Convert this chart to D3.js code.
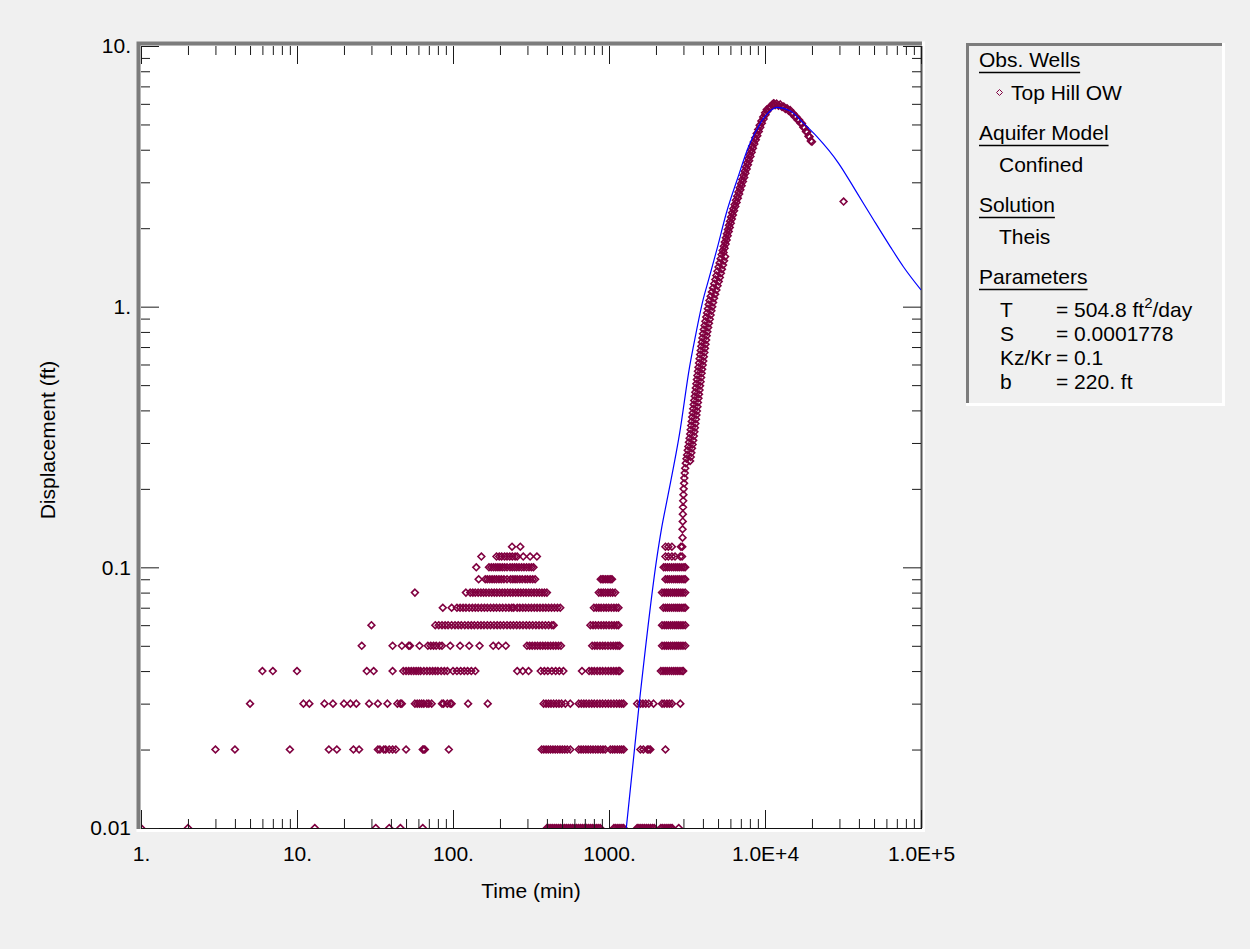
<!DOCTYPE html>
<html>
<head>
<meta charset="utf-8">
<title>Top Hill OW - Theis</title>
<script src="https://d3js.org/d3.v7.min.js"></script>
<style>
body { margin: 0; background: #f0f0f0; }
svg text { font-family: "Liberation Sans", Arial, sans-serif; }
</style>
</head>
<body>
<div id="chart"></div>
<script>

// axis ticks
var xTicks = [1, 10, 100, 1000, 1e4, 1e5];
var xTickLabels = ["1.", "10.", "100.", "1000.", "1.0E+4", "1.0E+5"];
var yTicks = [0.01, 0.1, 1, 10];
var yTickLabels = ["0.01", "0.1", "1.", "10."];

// observed displacement, readings at 0.01 ft steps (time in min per level)
var levels = [0.01, 0.02, 0.03, 0.04, 0.05, 0.06, 0.07, 0.08, 0.09, 0.10, 0.11, 0.12];
var t001 = [1, 2, 13, 32, 39, 46, 64, 400, 412, 424, 436, 449, 462, 476, 490, 505, 520, 535, 551, 567, 584, 601, 619, 637, 656, 675, 695, 716, 737, 759, 781, 804, 828, 852, 878, 1075, 1105, 1140, 1175, 1210, 1240, 1515, 1555, 1600, 1645, 1690, 1740, 1790, 1845, 1900, 1950, 2150, 2210, 2280, 2350, 2420, 2490, 2540, 2800];
var t002 = [3, 4, 9, 16, 18, 23, 25, 33, 34, 36, 37, 39, 41, 43, 50, 64, 65, 66, 94, 370, 382, 395, 408, 422, 437, 452, 468, 485, 502, 520, 540, 565, 640, 662, 685, 710, 735, 762, 790, 820, 850, 882, 915, 946, 1020, 1055, 1090, 1130, 1170, 1205, 1242, 1590, 1660, 1760, 1800, 1840, 2300];
var t003 = [5, 11, 12, 15, 17, 20, 22, 24, 29, 33, 38, 44, 46, 47, 57, 59, 61, 63, 65, 68, 70, 73, 85, 87, 92, 96, 98, 125, 167, 381, 395, 410, 425, 442, 460, 478, 497, 525, 565, 640, 665, 690, 715, 745, 775, 805, 840, 875, 910, 950, 990, 1030, 1075, 1120, 1165, 1205, 1242, 1515, 1590, 1650, 1720, 1800, 1930, 2187, 2260, 2353, 2440, 2535, 2866];
var t004 = [6, 7, 10, 28, 31, 41, 48, 50, 52, 54, 56, 58, 60, 62, 65, 68, 71, 74, 77, 80, 84, 88, 92, 100, 106, 112, 118, 124, 131, 139, 258, 280, 305, 365, 385, 405, 430, 455, 480, 510, 671, 745, 775, 805, 840, 875, 910, 950, 990, 1030, 1070, 1110, 1150, 1172, 2150, 2220, 2290, 2360, 2440, 2520, 2600, 2680, 2760, 2850, 2940, 2990];
var t005 = [26, 41, 47, 52, 53, 61, 69, 72, 75, 78, 82, 85, 96, 111, 127, 148, 181, 196, 218, 298, 310, 322, 335, 348, 362, 376, 391, 406, 422, 439, 456, 474, 492, 780, 810, 840, 875, 910, 945, 985, 1025, 1065, 1105, 1140, 1170, 2187, 2260, 2330, 2400, 2480, 2560, 2640, 2720, 2800, 2890, 2980, 3080];
var t006 = [30, 77, 81, 85, 89, 93, 98, 103, 108, 113, 119, 125, 131, 137, 144, 151, 158, 166, 174, 183, 192, 201, 211, 222, 233, 244, 256, 268, 281, 295, 309, 324, 340, 356, 373, 391, 410, 430, 442, 760, 790, 820, 855, 890, 925, 960, 1000, 1040, 1080, 1120, 1150, 2187, 2260, 2330, 2400, 2480, 2560, 2640, 2720, 2800, 2890, 2980, 3080];
var t007 = [86, 98, 106, 111, 116, 121, 127, 133, 139, 145, 152, 159, 166, 174, 182, 190, 199, 208, 218, 228, 238, 245, 258, 268, 280, 292, 305, 318, 332, 346, 361, 377, 393, 410, 428, 447, 467, 487, 800, 830, 860, 890, 925, 960, 995, 1035, 1075, 1115, 1150, 2230, 2300, 2370, 2440, 2520, 2600, 2680, 2760, 2840, 2930, 3020, 3080];
var t008 = [57, 121, 129, 134, 139, 145, 151, 157, 163, 170, 177, 184, 191, 199, 207, 215, 224, 233, 242, 252, 262, 272, 283, 294, 306, 318, 331, 344, 358, 372, 386, 400, 860, 890, 920, 950, 985, 1020, 1055, 1095, 2187, 2260, 2330, 2400, 2480, 2560, 2640, 2720, 2800, 2890, 2980, 3080];
var t009 = [146, 161, 166, 172, 178, 184, 190, 197, 204, 212, 222, 234, 242, 250, 258, 268, 278, 290, 300, 312, 324, 336, 885, 905, 925, 950, 975, 1000, 1025, 1045, 2300, 2370, 2440, 2520, 2600, 2680, 2760, 2840, 2930, 3020, 3080];
var t010 = [141, 170, 176, 182, 188, 194, 200, 207, 214, 222, 232, 240, 248, 256, 265, 275, 285, 296, 307, 318, 328, 2240, 2300, 2370, 2440, 2520, 2600, 2680, 2760, 2840, 2930, 3020, 3080];
var t011 = [152, 190, 198, 205, 214, 222, 231, 240, 250, 258, 282, 312, 345, 2300, 2400, 2530, 2650, 2860, 2940];
var t012 = [239, 270, 2300, 2400, 2530, 2890, 2950];
var levelTimes = [t001, t002, t003, t004, t005, t006, t007, t008, t009, t010, t011, t012];

// rising limb, still stepped
var colT = [2960, 2960, 2970, 2975, 2980, 2990, 3000, 3010, 3030, 3040, 3060, 3080];
var colV = [0.13, 0.14, 0.15, 0.16, 0.17, 0.18, 0.19, 0.20, 0.21, 0.22, 0.23, 0.24];

// main response curve, left / centre of the band
var mainT = [3108, 3138, 3167, 3196, 3226, 3255, 3285, 3316,
  3339, 3365, 3390, 3416, 3441, 3467, 3493, 3519,
  3548, 3575, 3603, 3632, 3660, 3688, 3717, 3746,
  3777, 3808, 3840, 3873, 3905, 3938, 3972, 4005,
  4052, 4101, 4150, 4200, 4251, 4303, 4356, 4408,
  4484, 4563, 4644, 4725,
  4807, 4882, 4958, 5036, 5115, 5195, 5276, 5359,
  5442, 5526, 5611, 5697, 5785, 5873, 5964, 6056,
  6152, 6267, 6386, 6507, 6630, 6755, 6882, 7013,
  7145, 7278, 7413, 7551, 7691, 7834, 7980, 8128,
  8283, 8467, 8656, 8848, 9043, 9244,
  9477, 9741, 10012,
  10270, 10708, 11164, 11350,
  11885, 12531, 13183, 13836, 14521, 15171, 15849, 16558, 17258, 17947, 18664, 19320, 19999];
var mainV = [0.251, 0.261, 0.270, 0.281, 0.291, 0.302, 0.313, 0.325,
  0.337, 0.350, 0.363, 0.377, 0.391, 0.406, 0.421, 0.437,
  0.453, 0.470, 0.488, 0.506, 0.525, 0.545, 0.565, 0.586,
  0.608, 0.631, 0.655, 0.679, 0.705, 0.731, 0.759, 0.787,
  0.817, 0.847, 0.879, 0.912, 0.946, 0.982, 1.019, 1.057,
  1.097, 1.138, 1.180, 1.225,
  1.271, 1.318, 1.368, 1.419, 1.472, 1.528, 1.585, 1.644,
  1.706, 1.770, 1.837, 1.906, 1.977, 2.051, 2.128, 2.208,
  2.291, 2.377, 2.466, 2.559, 2.655, 2.754, 2.858, 2.965,
  3.076, 3.192, 3.311, 3.436, 3.565, 3.698, 3.837, 3.981,
  4.131, 4.286, 4.446, 4.613, 4.786, 4.966,
  5.152, 5.346, 5.546,
  5.702, 5.834, 5.970, 6.026,
  6.012, 5.970, 5.860, 5.770, 5.675, 5.508, 5.358, 5.200, 5.047, 4.860, 4.677, 4.483, 4.295];

// main response curve, right / lower side of the band
var main2T = [3310, 3341, 3372, 3404, 3434, 3466, 3498, 3527, 3553, 3580,
  3607, 3634, 3661, 3689, 3716, 3745, 3775, 3804, 3834, 3865,
  3894, 3924, 3955, 3987, 4020, 4053, 4087, 4122, 4156, 4192,
  4227, 4270, 4321, 4373, 4426, 4479, 4534, 4589, 4645, 4713,
  4794, 4879, 4965, 5052, 5135, 5215, 5297, 5380, 5464, 5549,
  5424, 5508, 5594, 5679, 5767, 5856, 5946, 6036, 6130, 6226,
  6333, 6453, 6575, 6699, 6826, 6954, 7086, 7221, 7355, 7492,
  7632, 7773, 7917, 8065, 8215, 8369, 8543, 8732, 8927, 9124,
  9326, 9547, 9800, 10074, 10343, 10697, 11152, 11482,
  11614, 12204, 12853, 13505, 14175, 14843, 15506, 16199, 16904, 17600, 18302, 18989, 19656];
var main2V = [0.256, 0.265, 0.275, 0.286, 0.296, 0.307, 0.319, 0.331, 0.343, 0.356,
  0.370, 0.384, 0.398, 0.413, 0.429, 0.445, 0.461, 0.479, 0.497, 0.515,
  0.535, 0.555, 0.575, 0.597, 0.619, 0.643, 0.667, 0.692, 0.718, 0.745,
  0.773, 0.802, 0.832, 0.863, 0.895, 0.929, 0.964, 1.000, 1.038, 1.077,
  1.117, 1.159, 1.202, 1.248, 1.294, 1.343, 1.393, 1.445, 1.500, 1.556,
  1.614, 1.675, 1.738, 1.803, 1.871, 1.941, 2.014, 2.089, 2.168, 2.249,
  2.334, 2.421, 2.512, 2.607, 2.704, 2.806, 2.911, 3.020, 3.133, 3.251,
  3.373, 3.500, 3.631, 3.767, 3.908, 4.055, 4.208, 4.365, 4.529, 4.699,
  4.875, 5.058, 5.248, 5.445, 5.623, 5.767, 5.901, 5.998,
  5.93, 5.90, 5.83, 5.73, 5.64, 5.51, 5.35, 5.20, 5.05, 4.88, 4.70, 4.51, 4.32];

var outlierT = [31900];
var outlierV = [2.53];

// Theis fit
var theisT = [1291, 1564, 2032, 2163, 2355, 2837, 3287, 3575, 4008, 4347, 4970, 5648, 6620, 7852, 9330, 10040, 11930, 14550, 17660, 21520, 29640, 37940, 49700, 63500, 77300, 100000];
var theisV = [0.01, 0.0302, 0.110, 0.139, 0.181, 0.327, 0.589, 0.767, 1.061, 1.266, 1.70, 2.283, 3.06, 4.113, 5.05, 5.38, 5.82, 5.63, 5.05, 4.49, 3.548, 2.80, 2.15, 1.70, 1.42, 1.159];

var margin = {top: 46, right: 329, bottom: 121, left: 141},
    width = 1250 - margin.left - margin.right,
    height = 949 - margin.top - margin.bottom;

var root = d3.select("#chart")
  .append("svg")
    .attr("width", 1250)
    .attr("height", 949)
    .style("display", "block")
    .style("background", "#f0f0f0");

var svg = root.append("g")
    .attr("transform", "translate(" + margin.left + "," + margin.top + ")");

var x = d3.scaleLog().domain([1, 1e5]).range([0, width]);
var y = d3.scaleLog().domain([0.01, 10]).range([height, 0]);

// plot area with sunken border
svg.append("rect")
  .attr("x", 0).attr("y", 0)
  .attr("width", width).attr("height", height)
  .attr("fill", "#fff");
svg.append("path")
  .attr("d", "M-2.5," + (height + 1) + "V-2.5H" + (width + 1))
  .attr("fill", "none").attr("stroke", "#7c7c7c").attr("stroke-width", 4);
svg.append("path")
  .attr("d", "M-4.5," + (height + 2.5) + "H" + (width + 2.5) + "V-4.5")
  .attr("fill", "none").attr("stroke", "#fff").attr("stroke-width", 3);
svg.append("line")
  .attr("x1", 0).attr("x2", width + 1)
  .attr("y1", height + 0.5).attr("y2", height + 0.5)
  .attr("stroke", "#111");
svg.append("line")
  .attr("x1", width + 0.5).attr("x2", width + 0.5)
  .attr("y1", 0).attr("y2", height)
  .attr("stroke", "#555").attr("stroke-width", 2);

// diamond marker
var diamond = {
  draw: function(ctx, size) {
    var r = Math.sqrt(size / 2);
    ctx.moveTo(0, -r);
    ctx.lineTo(r, 0);
    ctx.lineTo(0, r);
    ctx.lineTo(-r, 0);
    ctx.closePath();
  }
};
var marker = d3.symbol().type(diamond).size(2 * 3.4 * 3.4);

var obs = [];
levels.forEach(function(v, i) {
  levelTimes[i].forEach(function(t) { obs.push({t: t, v: v}); });
});
colT.forEach(function(t, i) { obs.push({t: t, v: colV[i]}); });
mainT.forEach(function(t, i) { obs.push({t: t, v: mainV[i]}); });
main2T.forEach(function(t, i) { obs.push({t: t, v: main2V[i]}); });
outlierT.forEach(function(t, i) { obs.push({t: t, v: outlierV[i]}); });

svg.append("clipPath").attr("id", "plotclip")
  .append("rect").attr("width", width).attr("height", height);

var plot = svg.append("g").attr("clip-path", "url(#plotclip)");

plot.selectAll("path.obs")
  .data(obs)
  .enter()
  .append("path")
    .attr("class", "obs")
    .attr("d", marker)
    .attr("transform", function(d) { return "translate(" + x(d.t) + "," + y(d.v) + ")"; })
    .attr("fill", "none")
    .attr("stroke", "#800040")
    .attr("stroke-width", 1.6);

var theis = theisT.map(function(t, i) { return {t: t, v: theisV[i]}; });
plot.append("path")
  .datum(theis)
  .attr("fill", "none")
  .attr("stroke", "#0000ff")
  .attr("stroke-width", 1.2)
  .attr("d", d3.line()
    .x(function(d) { return x(d.t); })
    .y(function(d) { return y(d.v); })
    .curve(d3.curveMonotoneX));

// ticks, inside on all four sides
var xMinor = x.ticks().filter(function(d) { return xTicks.indexOf(d) < 0; });
var yMinor = y.ticks().filter(function(d) { return yTicks.every(function(m) { return Math.abs(m - d) > 1e-9; }); });

function styleAxis(g) {
  g.select(".domain").remove();
  g.attr("color", "#1a1a1a")
   .attr("font-size", 21)
   .attr("font-family", "'Liberation Sans', Arial, sans-serif");
  g.selectAll("text").attr("fill", "#000");
}

svg.append("g")
  .attr("transform", "translate(0," + height + ")")
  .call(d3.axisBottom(x).tickValues(xTicks).tickSizeInner(-18).tickSizeOuter(0).tickPadding(18)
    .tickFormat(function(d, i) { return xTickLabels[i]; }))
  .call(styleAxis);
svg.append("g")
  .attr("transform", "translate(0," + height + ")")
  .call(d3.axisBottom(x).tickValues(xMinor).tickSizeInner(-9).tickSizeOuter(0).tickFormat(""))
  .call(styleAxis);
svg.append("g")
  .call(d3.axisTop(x).tickValues(xTicks).tickSizeInner(-18).tickSizeOuter(0).tickFormat(""))
  .call(styleAxis);
svg.append("g")
  .call(d3.axisTop(x).tickValues(xMinor).tickSizeInner(-9).tickSizeOuter(0).tickFormat(""))
  .call(styleAxis);

svg.append("g")
  .call(d3.axisLeft(y).tickValues(yTicks).tickSizeInner(-18).tickSizeOuter(0).tickPadding(10)
    .tickFormat(function(d, i) { return yTickLabels[i]; }))
  .call(styleAxis);
svg.append("g")
  .call(d3.axisLeft(y).tickValues(yMinor).tickSizeInner(-9).tickSizeOuter(0).tickFormat(""))
  .call(styleAxis);
svg.append("g")
  .attr("transform", "translate(" + width + ",0)")
  .call(d3.axisRight(y).tickValues(yTicks).tickSizeInner(-18).tickSizeOuter(0).tickFormat(""))
  .call(styleAxis);
svg.append("g")
  .attr("transform", "translate(" + width + ",0)")
  .call(d3.axisRight(y).tickValues(yMinor).tickSizeInner(-9).tickSizeOuter(0).tickFormat(""))
  .call(styleAxis);

// axis titles
root.append("text")
  .attr("x", margin.left + width / 2)
  .attr("y", 898)
  .attr("text-anchor", "middle")
  .style("font-size", "21px")
  .text("Time (min)");
root.append("text")
  .attr("transform", "translate(55," + (margin.top + height / 2 + 3) + ")rotate(-90)")
  .attr("text-anchor", "middle")
  .style("font-size", "21px")
  .text("Displacement (ft)");

// legend box
var lg = root.append("g");
lg.append("path")
  .attr("d", "M967.5,405V44.5H1223")
  .attr("fill", "none").attr("stroke", "#7c7c7c").attr("stroke-width", 3);
lg.append("path")
  .attr("d", "M966,404.5H1223.5V43")
  .attr("fill", "none").attr("stroke", "#fff").attr("stroke-width", 3);

function header(label, yb) {
  var t = lg.append("text")
    .attr("x", 979).attr("y", yb)
    .style("font-size", "21px")
    .text(label);
  var w = t.node().getComputedTextLength();
  lg.append("line")
    .attr("x1", 979).attr("x2", 979 + w)
    .attr("y1", yb + 5.5).attr("y2", yb + 5.5)
    .attr("stroke", "#000").attr("stroke-width", 1.4);
}
function item(label, xs, yb) {
  return lg.append("text")
    .attr("x", xs).attr("y", yb)
    .style("font-size", "21px")
    .text(label);
}

header("Obs. Wells", 67);
lg.append("path")
  .attr("d", d3.symbol().type(diamond).size(2 * 3 * 3))
  .attr("transform", "translate(999.5,92.5)")
  .attr("fill", "none").attr("stroke", "#800040").attr("stroke-width", 1);
item("Top Hill OW", 1011, 100);
header("Aquifer Model", 140);
item("Confined", 999, 172);
header("Solution", 212);
item("Theis", 999, 244);
header("Parameters", 284);

var paramNames = ["T", "S", "Kz/Kr", "b"];
var paramValues = ["= 504.8 ft", "= 0.0001778", "= 0.1", "= 220. ft"];
paramNames.forEach(function(n, i) {
  var yb = 317 + i * 24;
  item(n, 1000, yb);
  var v = item(paramValues[i], 1056, yb);
  if (i === 0) {
    v.append("tspan").attr("dy", -9).style("font-size", "15px").text("2");
    v.append("tspan").attr("dy", 9).text("/day");
  }
});

</script>
</body>
</html>
